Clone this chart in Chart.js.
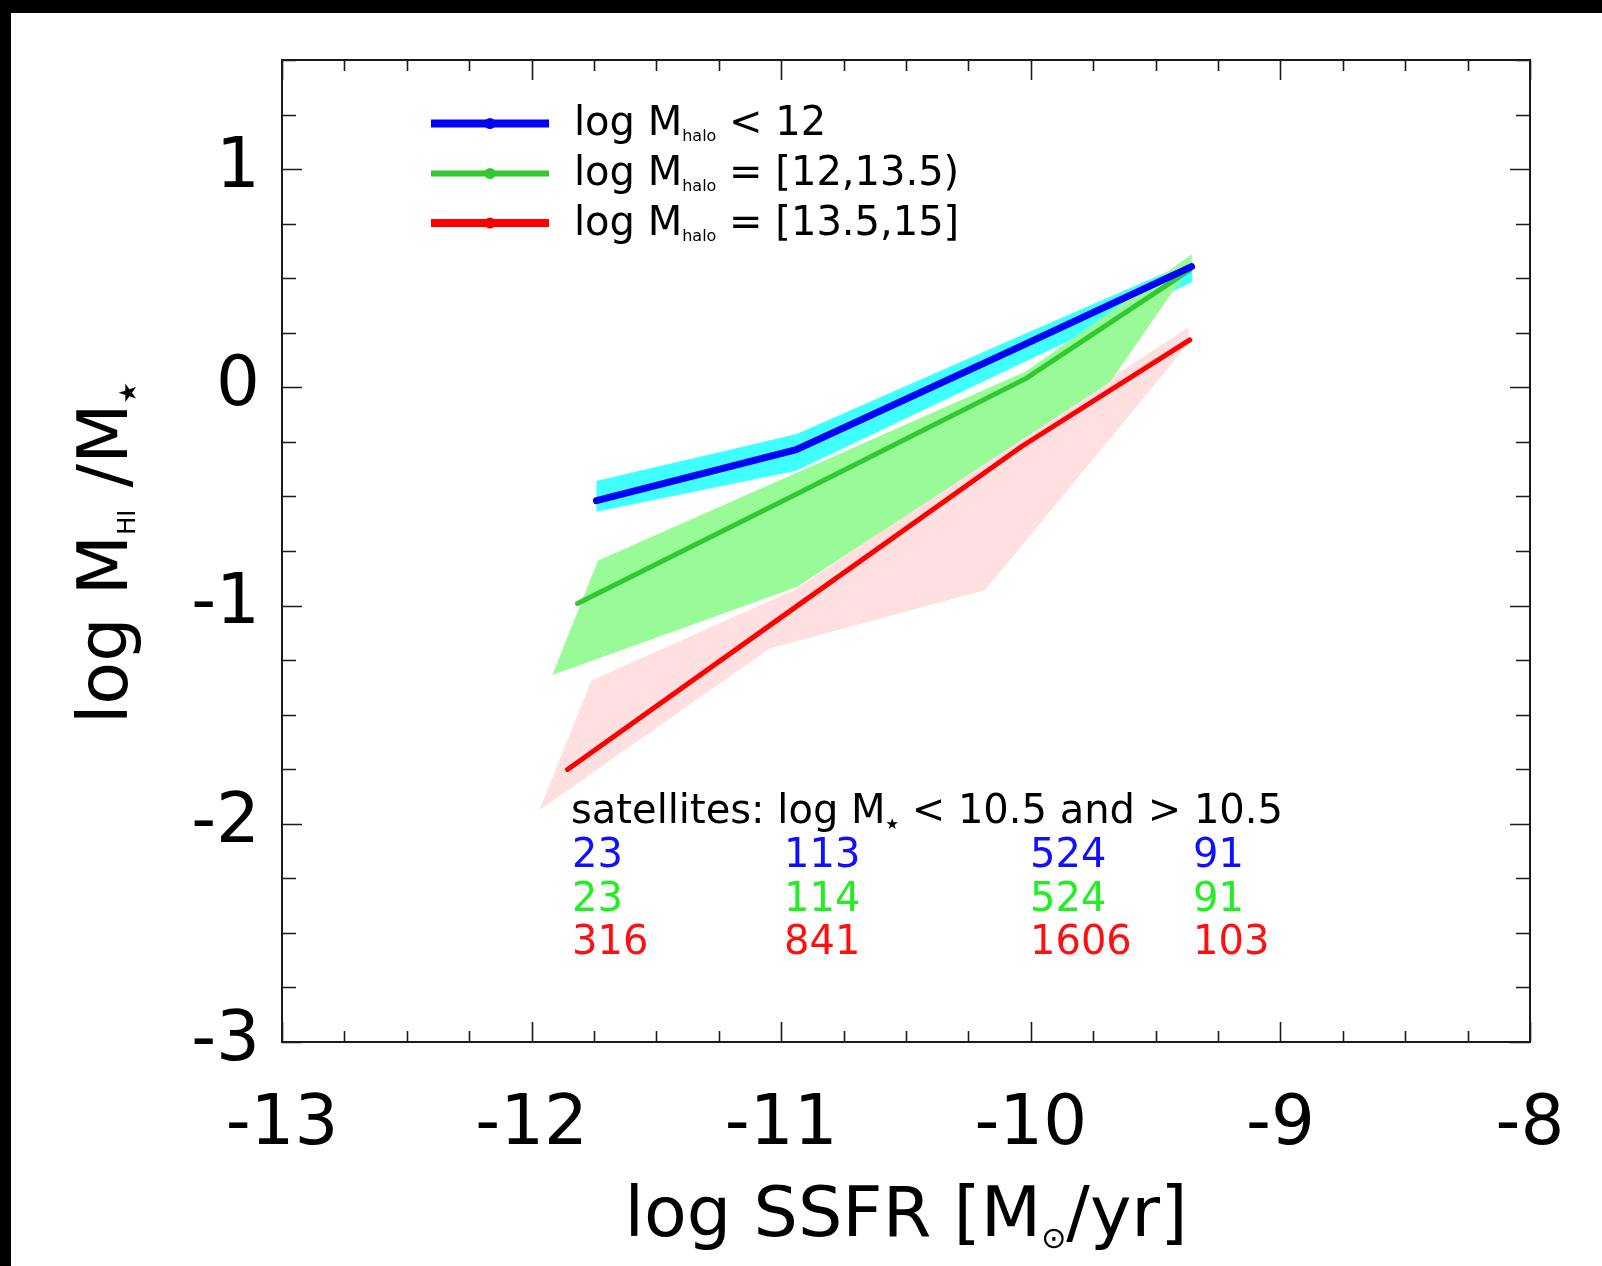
<!DOCTYPE html>
<html>
<head>
<meta charset="utf-8">
<script src="https://cdn.jsdelivr.net/npm/chart.js@4.4.1/dist/chart.umd.min.js"></script>
<style>
  html, body { margin: 0; padding: 0; background: #000; }
  canvas { display: block; }
</style>
</head>
<body>
<canvas id="chart" width="1602" height="1266"></canvas>
<script>
// axis ticks
const xTicks = [-13, -12, -11, -10, -9, -8];
const yTicks = [-3, -2, -1, 0, 1];

// medians per halo mass bin (log SSFR, log MHI/M*)
const blueX = [-11.74, -10.94, -10.05, -9.356];
const blueY = [-0.519, -0.286, 0.183, 0.553];
const greenX = [-11.816, -10.94, -10.017, -9.363];
const greenY = [-0.991, -0.49, 0.042, 0.538];
const redX = [-11.856, -10.94, -10.037, -9.363];
const redY = [-1.751, -1.005, -0.271, 0.217];

// scatter bands, upper and lower edges
const cyanUpX = [-11.74, -10.94, -10.05, -9.356];
const cyanUpY = [-0.431, -0.217, 0.23, 0.575];
const cyanLoX = [-11.74, -10.94, -10.05, -9.356];
const cyanLoY = [-0.568, -0.38, 0.105, 0.483];
const greenUpX = [-11.735, -10.94, -10.02, -9.356];
const greenUpY = [-0.797, -0.395, 0.07, 0.606];
const greenLoX = [-11.916, -10.938, -9.683, -9.36];
const greenLoY = [-1.316, -0.913, 0.027, 0.56];
const pinkUpX = [-11.761, -10.94, -10.044, -9.371];
const pinkUpY = [-1.346, -0.927, -0.231, 0.27];
const pinkLoX = [-11.968, -11.046, -10.184, -9.371];
const pinkLoY = [-1.934, -1.194, -0.927, 0.2];

// satellite counts per bin
const countsBlue = [23, 113, 524, 91];
const countsGreen = [23, 114, 524, 91];
const countsRed = [316, 841, 1606, 103];

const FONT = '"DejaVu Sans"';
const BLUE = '#0000ff', GREEN = '#32c832', RED = '#ff0000';

const pts = (xs, ys) => xs.map((x, i) => ({x: x, y: ys[i]}));
const band = (ux, uy, lx, ly) => pts(ux, uy).concat(pts(lx, ly).reverse());

function lineSet(label, xs, ys, color, width) {
  return {label, data: pts(xs, ys), showLine: true, borderColor: color,
    borderWidth: width, pointRadius: 0, fill: false, borderCapStyle: 'round'};
}
function bandSet(label, data, color) {
  return {label, data, showLine: true, borderColor: color, borderWidth: 1,
    backgroundColor: color, pointRadius: 0, fill: 'shape'};
}

// draws a run of text pieces [text, size, dy, color] from x (or centred on x)
function richText(ctx, x, y, parts, align) {
  let w = 0;
  parts.forEach(p => { ctx.font = p[1] + 'px ' + FONT; w += ctx.measureText(p[0]).width; });
  let cx = align === 'center' ? x - w / 2 : x;
  ctx.textAlign = 'left';
  ctx.textBaseline = 'alphabetic';
  parts.forEach(p => {
    ctx.font = p[1] + 'px ' + FONT;
    ctx.fillStyle = p[3] || '#000';
    ctx.fillText(p[0], cx, y + (p[2] || 0));
    cx += ctx.measureText(p[0]).width;
  });
}

const decor = {
  id: 'decor',
  beforeDraw(chart) {
    const ctx = chart.ctx;
    ctx.save();
    ctx.fillStyle = '#000';
    ctx.fillRect(0, 0, chart.width, chart.height);
    ctx.fillStyle = '#fff';
    ctx.fillRect(11, 13, chart.width, chart.height);
    ctx.restore();
  },
  afterDraw(chart) {
    const ctx = chart.ctx;
    const a = chart.chartArea;
    const xs = chart.scales.x, ys = chart.scales.y;
    ctx.save();

    // frame and inward ticks on all four sides
    ctx.strokeStyle = '#1a1a1a';
    ctx.lineWidth = 2;
    ctx.strokeRect(a.left, a.top, a.right - a.left, a.bottom - a.top);
    ctx.lineWidth = 1.6;
    ctx.beginPath();
    for (let v = xs.min; v <= xs.max + 1e-9; v += 0.25) {
      const p = Math.round(xs.getPixelForValue(v)) + 0.5;
      const len = Math.abs(v - Math.round(v)) < 1e-6 ? 20 : 11;
      ctx.moveTo(p, a.bottom); ctx.lineTo(p, a.bottom - len);
      ctx.moveTo(p, a.top); ctx.lineTo(p, a.top + len);
    }
    for (let v = ys.min; v <= ys.max + 1e-9; v += 0.25) {
      const p = Math.round(ys.getPixelForValue(v)) + 0.5;
      const len = Math.abs(v - Math.round(v)) < 1e-6 ? 20 : 14;
      ctx.moveTo(a.left, p); ctx.lineTo(a.left + len, p);
      ctx.moveTo(a.right, p); ctx.lineTo(a.right - len, p);
    }
    ctx.stroke();

    // legend
    const legend = [
      [BLUE, 8, 123.5, ' < 12'],
      [GREEN, 6, 173.5, ' = [12,13.5)'],
      [RED, 8, 223, ' = [13.5,15]']
    ];
    legend.forEach(e => {
      ctx.strokeStyle = e[0];
      ctx.fillStyle = e[0];
      ctx.lineWidth = e[1];
      ctx.beginPath();
      ctx.moveTo(431, e[2]); ctx.lineTo(549, e[2]);
      ctx.stroke();
      ctx.beginPath();
      ctx.arc(490, e[2], 5.5, 0, Math.PI * 2);
      ctx.fill();
      richText(ctx, 574, e[2] + 11.5, [['log M', 40], ['halo', 16, 6], [e[3], 40]]);
    });

    // satellite note and counts
    richText(ctx, 571, 823, [['satellites: log M', 40], ['\u2605', 15, 6], [' < 10.5 and > 10.5', 40]]);
    const cols = [572, 784, 1030, 1193];
    [[countsBlue, '#1010ff', 867], [countsGreen, '#22ee22', 910.5], [countsRed, '#ff1010', 954]].forEach(r => {
      r[0].forEach((n, i) => richText(ctx, cols[i], r[2], [[String(n), 40, 0, r[1]]]));
    });

    // axis titles
    richText(ctx, (a.left + a.right) / 2, 1236,
      [['log SSFR [M', 70], ['\u2299', 30, 12], ['/yr]', 70]], 'center');
    ctx.translate(127, 553);
    ctx.rotate(-Math.PI / 2);
    richText(ctx, 0, 0, [['log M', 70], ['HI', 24, 8], [' /M', 70], ['\u2605', 24, 9]], 'center');

    ctx.restore();
  }
};

new Chart(document.getElementById('chart'), {
  type: 'scatter',
  data: {
    datasets: [
      lineSet('log Mhalo < 12', blueX, blueY, BLUE, 7),
      lineSet('log Mhalo = [12,13.5)', greenX, greenY, GREEN, 5),
      lineSet('log Mhalo = [13.5,15]', redX, redY, RED, 5),
      bandSet('green band', band(greenUpX, greenUpY, greenLoX, greenLoY), '#98fb98'),
      bandSet('red band', band(pinkUpX, pinkUpY, pinkLoX, pinkLoY), '#ffdfdf'),
      bandSet('blue band', band(cyanUpX, cyanUpY, cyanLoX, cyanLoY), '#40ffff')
    ]
  },
  options: {
    responsive: false,
    animation: false,
    devicePixelRatio: 1,
    layout: {padding: {left: 0, top: 60, right: 72, bottom: 0}},
    plugins: {legend: {display: false}, tooltip: {enabled: false}},
    scales: {
      x: {
        type: 'linear', min: -13, max: -8,
        afterBuildTicks: s => { s.ticks = xTicks.map(v => ({value: v})); },
        afterFit: s => { s.height = 224; s.paddingLeft = 0; s.paddingRight = 0; },
        grid: {display: false, drawTicks: false},
        border: {display: false},
        ticks: {font: {family: 'DejaVu Sans', size: 69}, color: '#000', padding: 43,
          maxRotation: 0, autoSkip: false}
      },
      y: {
        type: 'linear', min: -3, max: 1.5,
        afterBuildTicks: s => { s.ticks = yTicks.map(v => ({value: v})); },
        afterFit: s => { s.width = 282; s.paddingTop = 0; s.paddingBottom = 0; },
        grid: {display: false, drawTicks: false},
        border: {display: false},
        ticks: {font: {family: 'DejaVu Sans', size: 69}, color: '#000', padding: 22,
          autoSkip: false}
      }
    }
  },
  plugins: [decor]
});
</script>
</body>
</html>
